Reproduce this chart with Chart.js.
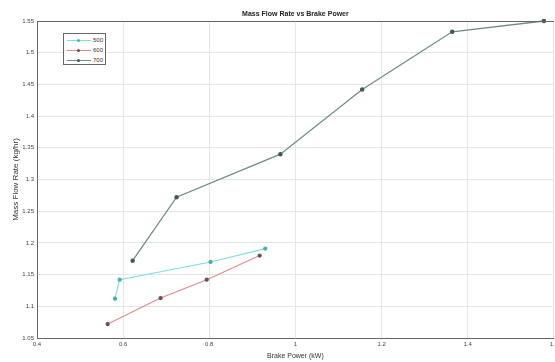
<!DOCTYPE html>
<html>
<head>
<meta charset="utf-8">
<script src="https://cdn.jsdelivr.net/npm/chart.js@4.4.1/dist/chart.umd.min.js"></script>
<style>
  html, body { margin: 0; padding: 0; background: #fff; overflow: hidden; }
  #wrap { position: relative; width: 555px; height: 362px; overflow: hidden; }
  /* canvas is a bit wider so the 1.6 edge lands on the window edge, as in the original crop */
  #inner { position: absolute; left: 0; top: 0; width: 561px; height: 362px; }
  #legend {
    position: absolute; left: 63px; top: 33px; width: 43px; height: 32px;
    border: 1px solid #666; background: #fff; box-sizing: border-box;
    padding-top: 2px; font: 6px "Liberation Sans", Arial, sans-serif; color: #333;
  }
  .row { position: relative; height: 10px; }
  .row .ln { position: absolute; left: 3px; top: 4px; width: 24px; border-top: 1px solid; }
  .row .mk { position: absolute; left: 13px; top: 3px; width: 3px; height: 3px; border-radius: 50%; }
  .row .lb { position: absolute; left: 29px; top: 1px; }
</style>
</head>
<body>
<div id="wrap">
  <div id="inner"><canvas id="flow"></canvas></div>
  <div id="legend"></div>
</div>
<script>
// series
const seriesNames = ["500", "600", "700"];
const powerA = [0.581, 0.592, 0.803, 0.93];
const flowA = [1.112, 1.142, 1.17, 1.191];
const powerB = [0.564, 0.687, 0.794, 0.917];
const flowB = [1.072, 1.113, 1.142, 1.18];
const powerC = [0.622, 0.724, 0.965, 1.155, 1.364, 1.577];
const flowC = [1.172, 1.272, 1.34, 1.442, 1.533, 1.55];

const lineColors = ["#7fdede", "#e58a8a", "#6f8c8a"];
const markColors = ["#45b0b0", "#6a5050", "#3f5a58"];

const font = "'Liberation Sans', Arial, sans-serif";

function toPoints(xs, ys) {
  return xs.map((x, i) => ({ x: x, y: ys[i] }));
}

// matlab style labels: 1.1 not 1.10, 1 not 1.0
function shortLabel(value) {
  return String(+value.toFixed(2));
}

const allSeries = [toPoints(powerA, flowA), toPoints(powerB, flowB), toPoints(powerC, flowC)];

// legend inside the plot, like the original
const legend = document.getElementById("legend");
seriesNames.forEach((name, i) => {
  const row = document.createElement("div");
  row.className = "row";
  row.innerHTML =
    '<span class="ln" style="border-color:' + lineColors[i] + '"></span>' +
    '<span class="mk" style="background:' + markColors[i] + '"></span>' +
    '<span class="lb">' + name + "</span>";
  legend.appendChild(row);
});

const topBorder = {
  id: "topBorder",
  afterDraw(chart) {
    const { ctx, chartArea } = chart;
    ctx.save();
    ctx.strokeStyle = "#666";
    ctx.lineWidth = 1;
    ctx.beginPath();
    ctx.moveTo(chartArea.left, Math.round(chartArea.top) + 0.5);
    ctx.lineTo(chartArea.right, Math.round(chartArea.top) + 0.5);
    ctx.stroke();
    ctx.restore();
  },
};

const ctx = document.getElementById("flow").getContext("2d");

let flowChart = new Chart(ctx, {
  type: "line",
  data: {
    datasets: allSeries.map((pts, i) => ({
      label: seriesNames[i],
      data: pts,
      borderColor: lineColors[i],
      backgroundColor: markColors[i],
      pointBackgroundColor: markColors[i],
      pointBorderColor: markColors[i],
      borderWidth: i === 2 ? 1.3 : 1.1,
      pointRadius: 1.6,
      tension: 0,
      clip: 5,
    })),
  },
  options: {
    responsive: true,
    maintainAspectRatio: false,
    animation: false,
    layout: { padding: 0 },
    plugins: {
      legend: { display: false },
      tooltip: { enabled: false },
      title: {
        display: true,
        fullSize: false,
        text: "Mass Flow Rate vs Brake Power",
        color: "#222",
        font: { family: font, size: 7, weight: "bold" },
        padding: { top: 9.8, bottom: 2.8 },
      },
    },
    scales: {
      x: {
        type: "linear",
        min: 0.4,
        max: 1.6,
        ticks: {
          stepSize: 0.2,
          color: "#444",
          padding: 3,
          font: { family: font, size: 6 },
          callback: shortLabel,
        },
        grid: { color: "#e6e6e6", drawTicks: false },
        border: { color: "#666" },
        title: {
          display: true,
          text: "Brake Power (kW)",
          color: "#333",
          font: { family: font, size: 7 },
          padding: { top: 0, bottom: 2 },
        },
        afterFit: function (scale) {
          scale.height = 24;
        },
      },
      y: {
        min: 1.05,
        max: 1.55,
        ticks: {
          stepSize: 0.05,
          color: "#444",
          padding: 3,
          font: { family: font, size: 6 },
          callback: shortLabel,
        },
        grid: { color: "#e6e6e6", drawTicks: false },
        border: { color: "#666" },
        title: {
          display: true,
          text: "Mass Flow Rate (kg/hr)",
          color: "#333",
          font: { family: font, size: 8 },
          padding: { top: 11, bottom: 0 },
        },
        afterFit: function (scale) {
          scale.width = 37;
        },
      },
    },
  },
  plugins: [topBorder],
});
</script>
</body>
</html>
